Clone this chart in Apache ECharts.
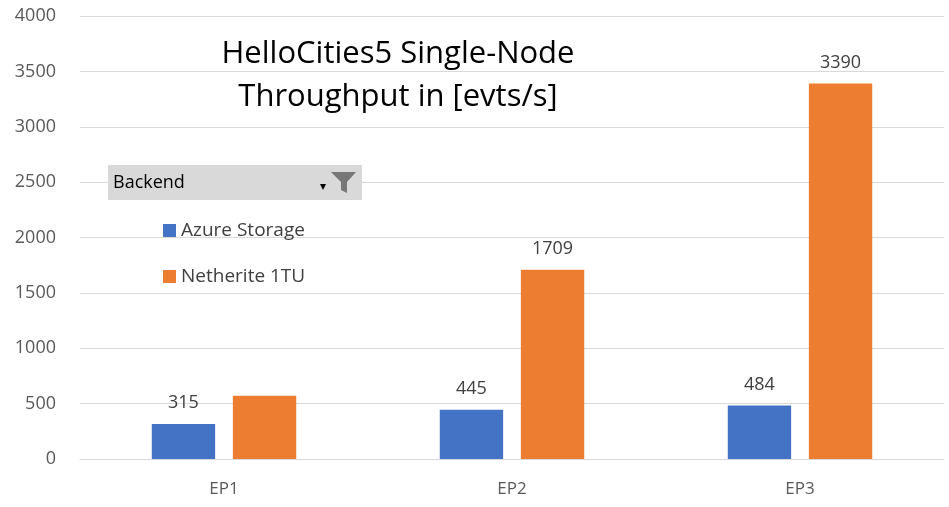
<!DOCTYPE html>
<html><head><meta charset="utf-8">
<script src="https://cdn.jsdelivr.net/npm/echarts@6/dist/echarts.min.js"></script>
<style>html,body{margin:0;padding:0;background:#fff}#c{width:949px;height:507px}</style>
</head><body><div id="c"></div>
<script>
var categories = ['EP1','EP2','EP3'];
var azure = [315, 445, 484];
var netherite = [570, 1709, 3390];
var netheriteLabels = ['', '1709', '3390'];
var yTicks = [0, 4000, 500];
var chart = echarts.init(document.getElementById('c'));
var font = 'Open Sans, Liberation Sans, sans-serif';
chart.setOption({
  animation:false,
  title:{text:'HelloCities5 Single-Node\nThroughput in [evts/s]', left:393, top:28, textAlign:'center',
    textStyle:{fontFamily:font, fontSize:31, fontWeight:'normal', color:'#000', lineHeight:43}},
  grid:{left:80, right:5, top:16, bottom:48},
  legend:{orient:'vertical', left:158, top:216, itemWidth:13, itemHeight:13, itemGap:27,
    textStyle:{fontFamily:font, fontSize:19, color:'#404040'}, icon:'rect'},
  graphic:[
    {type:'rect', z:100, shape:{x:108,y:165,width:254,height:35}, style:{fill:'#d9d9d9'}},
    {type:'text', z:101, x:113, y:183, style:{text:'Backend', fontFamily:font, fontSize:18, fill:'#000', verticalAlign:'middle'}},
    {type:'text', z:101, x:320, y:187, style:{text:'▾', fontFamily:font, fontSize:12, fill:'#000', verticalAlign:'middle'}},
    {type:'polygon', z:101, shape:{points:[[331,172],[356,172],[347,182],[347,193],[341,190],[341,182]]}, style:{fill:'#777'}}
  ],
  xAxis:{type:'category', data:categories, axisTick:{show:false},
    axisLine:{lineStyle:{color:'#d9d9d9'}},
    axisLabel:{fontFamily:font, fontSize:17, color:'#595959', margin:22}},
  yAxis:{type:'value', min:yTicks[0], max:yTicks[1], interval:yTicks[2],
    axisLabel:{fontFamily:font, fontSize:18, color:'#595959', margin:24, formatter:function(v){return String(v);}},
    splitLine:{lineStyle:{color:'#d9d9d9'}}},
  series:[
    {name:'Azure Storage', type:'bar', data:azure, barWidth:'22%', barGap:'28%', itemStyle:{color:'#4472C4'},
      label:{show:true, position:'top', distance:12, fontFamily:font, fontSize:18, color:'#404040'}},
    {name:'Netherite 1TU', type:'bar', data:netherite, barWidth:'22%', itemStyle:{color:'#ED7D31'},
      label:{show:true, position:'top', distance:12, fontFamily:font, fontSize:18, color:'#404040',
        formatter:function(p){return netheriteLabels[p.dataIndex];}}}
  ]
});
</script></body></html>
